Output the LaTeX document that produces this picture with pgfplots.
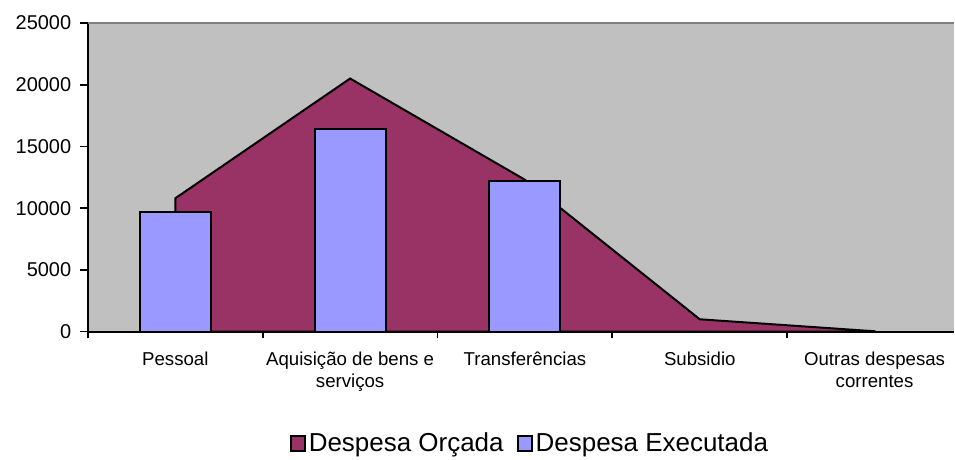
\documentclass[border=0pt]{standalone}
\usepackage{pgfplots}
\pgfplotsset{compat=1.18}
\usepackage{fontspec}
\setmainfont{Liberation Sans}
\definecolor{orc}{HTML}{993366}
\definecolor{exe}{HTML}{9999FF}
\definecolor{bg}{HTML}{C0C0C0}
\definecolor{topline}{HTML}{808080}
\begin{document}
\begin{tikzpicture}
\begin{axis}[
  scale only axis,
  width=650.25pt, height=231.75pt,
  xmin=-0.5, xmax=4.454,
  ymin=0, ymax=25000,
  axis background/.style={fill=bg},
  axis x line*=bottom, axis y line*=left,
  axis line style={line width=1.6pt, black},
  ytick={0,5000,10000,15000,20000,25000},
  scaled y ticks=false,
  yticklabel style={font=\fontsize{15}{17}\selectfont, xshift=-3pt},
  /pgf/number format/assume math mode=true,
  /pgf/number format/1000 sep={},
  tick align=outside,
  major tick length=6pt,
  tick style={line width=1.3pt, black},
  xtick={0,1,2,3,4},
  xtick style={draw=none},
  xticklabels={Pessoal, Aquisição de bens e\\serviços, Transferências, Subsidio, Outras despesas\\correntes},
  x tick label style={font=\fontsize{14}{16.5}\selectfont, align=center, yshift=-6pt},
  extra x ticks={-0.5,0.5,1.5,2.5,3.5},
  extra x tick labels={},
  extra x tick style={xtick style={draw=black, line width=1.3pt}, tick align=center, major tick length=10pt},
  legend columns=2,
  legend style={draw=none, fill=none, at={(0.511,-0.362)}, anchor=center,
    font=\fontsize{19.5}{22}\selectfont,
    /tikz/every even column/.append style={column sep=8pt}},
  legend cell align=left,
  clip=false,
]
\addplot[fill=orc, draw=black, line width=1.5pt,
  legend image code/.code={\draw[fill=orc, draw=black, line width=1.5pt] (0pt,-5.5pt) rectangle (10.5pt,5.5pt);}]
  coordinates {(0,10800) (1,20500) (2,12300) (3,1000) (4,30)} \closedcycle;
\addlegendentry{Despesa Orçada}
\addplot[ybar, bar width=53.25pt, bar shift=0pt, fill=exe, draw=black, line width=1.5pt,
  legend image code/.code={\draw[fill=exe, draw=black, line width=1.5pt] (0pt,-5.5pt) rectangle (10.5pt,5.5pt);}]
  coordinates {(0,9700) (1,16400) (2,12200)};
\addlegendentry{Despesa Executada}
\draw[topline, line width=1pt] (rel axis cs:0,1) -- (rel axis cs:1,1);
\end{axis}
\useasboundingbox (-66pt,-93.75pt) rectangle (650.25pt,249pt);
\end{tikzpicture}
\end{document}
